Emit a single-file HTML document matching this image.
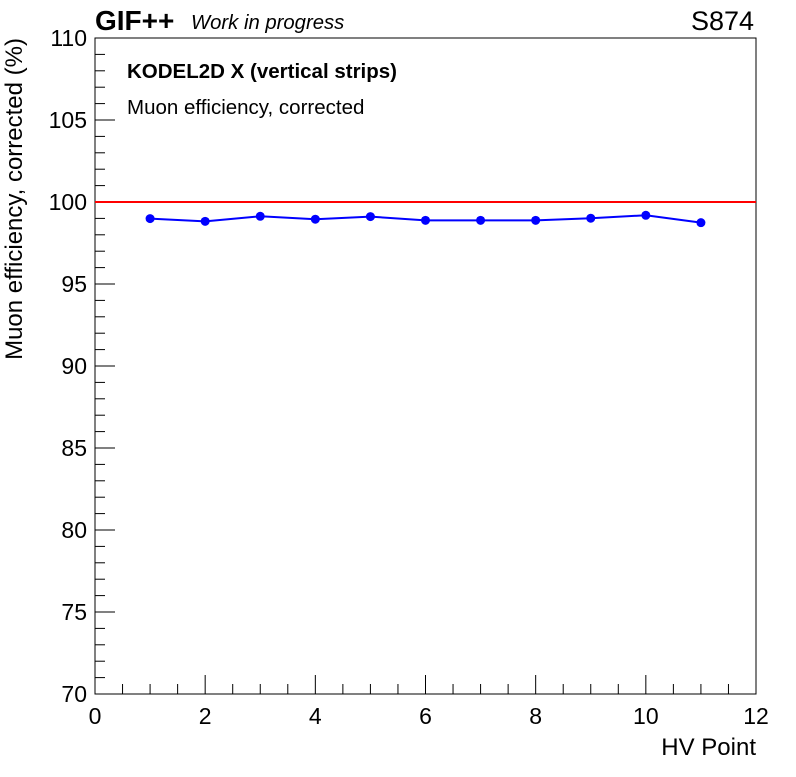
<!DOCTYPE html>
<html><head><meta charset="utf-8"><style>
body{margin:0;background:#fff;width:796px;height:772px;overflow:hidden;font-family:"Liberation Sans",sans-serif}
</style></head><body>
<svg id="c" width="796" height="772" xmlns="http://www.w3.org/2000/svg" font-family="Liberation Sans, sans-serif">
<rect x="95" y="38" width="661" height="656" fill="none" stroke="#000" stroke-width="1"/>
<g id="axes"></g>
<g id="marks"></g>
<text x="95" y="30" font-size="28" font-weight="bold">GIF++</text>
<text x="191" y="29" font-size="20.3" font-style="italic">Work in progress</text>
<text x="754" y="30" font-size="27" text-anchor="end">S874</text>
<text x="127" y="78" font-size="20.5" font-weight="bold">KODEL2D X (vertical strips)</text>
<text x="127" y="114" font-size="20.5">Muon efficiency, corrected</text>
<text x="756" y="755" font-size="24" text-anchor="end">HV Point</text>
<text transform="translate(22,38) rotate(-90)" font-size="24" text-anchor="end">Muon efficiency, corrected (%)</text>
</svg>
<script>
const xValues=[1,2,3,4,5,6,7,8,9,10,11];
const yValues=[98.99,98.82,99.13,98.95,99.11,98.88,98.88,98.88,99.01,99.19,98.74];
const xTicks=[0,2,4,6,8,10,12];
const yTicks=[70,75,80,85,90,95,100,105,110];
const refValue=100;
const X0=95,X1=756,Y0=694,Y1=38;
const sx=v=>X0+(v-0)/12*(X1-X0);
const sy=v=>Y0-(v-70)/40*(Y0-Y1);
const NS="http://www.w3.org/2000/svg";
const ax=document.getElementById('axes'),mk=document.getElementById('marks');
function el(t,a,p){const e=document.createElementNS(NS,t);for(const k in a)e.setAttribute(k,a[k]);p.appendChild(e);return e;}
for(let v=0;v<=12.001;v+=0.5){const major=Math.abs(v%2)<1e-6;const l=el('line',{x1:sx(v),x2:sx(v),y1:Y0,y2:Y0-(major?19:10),stroke:'#000'},ax);

}
xTicks.forEach(v=>{const t=el('text',{x:sx(v),y:Y0+30,'font-size':23,'text-anchor':'middle'},ax);t.textContent=v;

});
for(let v=70;v<=110.001;v+=1){const major=Math.abs(v%5)<1e-6;const l=el('line',{x1:X0,x2:X0+(major?20:10),y1:sy(v),y2:sy(v),stroke:'#000'},ax);

}
yTicks.forEach(v=>{const t=el('text',{x:X0-8,y:sy(v)+8,'font-size':23,'text-anchor':'end'},ax);t.textContent=v;

});
const ref=el('line',{x1:X0,x2:X1,y1:sy(refValue),y2:sy(refValue),stroke:'#f00','stroke-width':2},mk);


const pl=el('polyline',{points:xValues.map((x,i)=>sx(x)+','+sy(yValues[i])).join(' '),fill:'none',stroke:'#00f','stroke-width':2},mk);


xValues.forEach((x,i)=>{const c=el('circle',{cx:sx(x),cy:sy(yValues[i]),r:4.5,fill:'#00f'},mk);

});
</script>
</body></html>
